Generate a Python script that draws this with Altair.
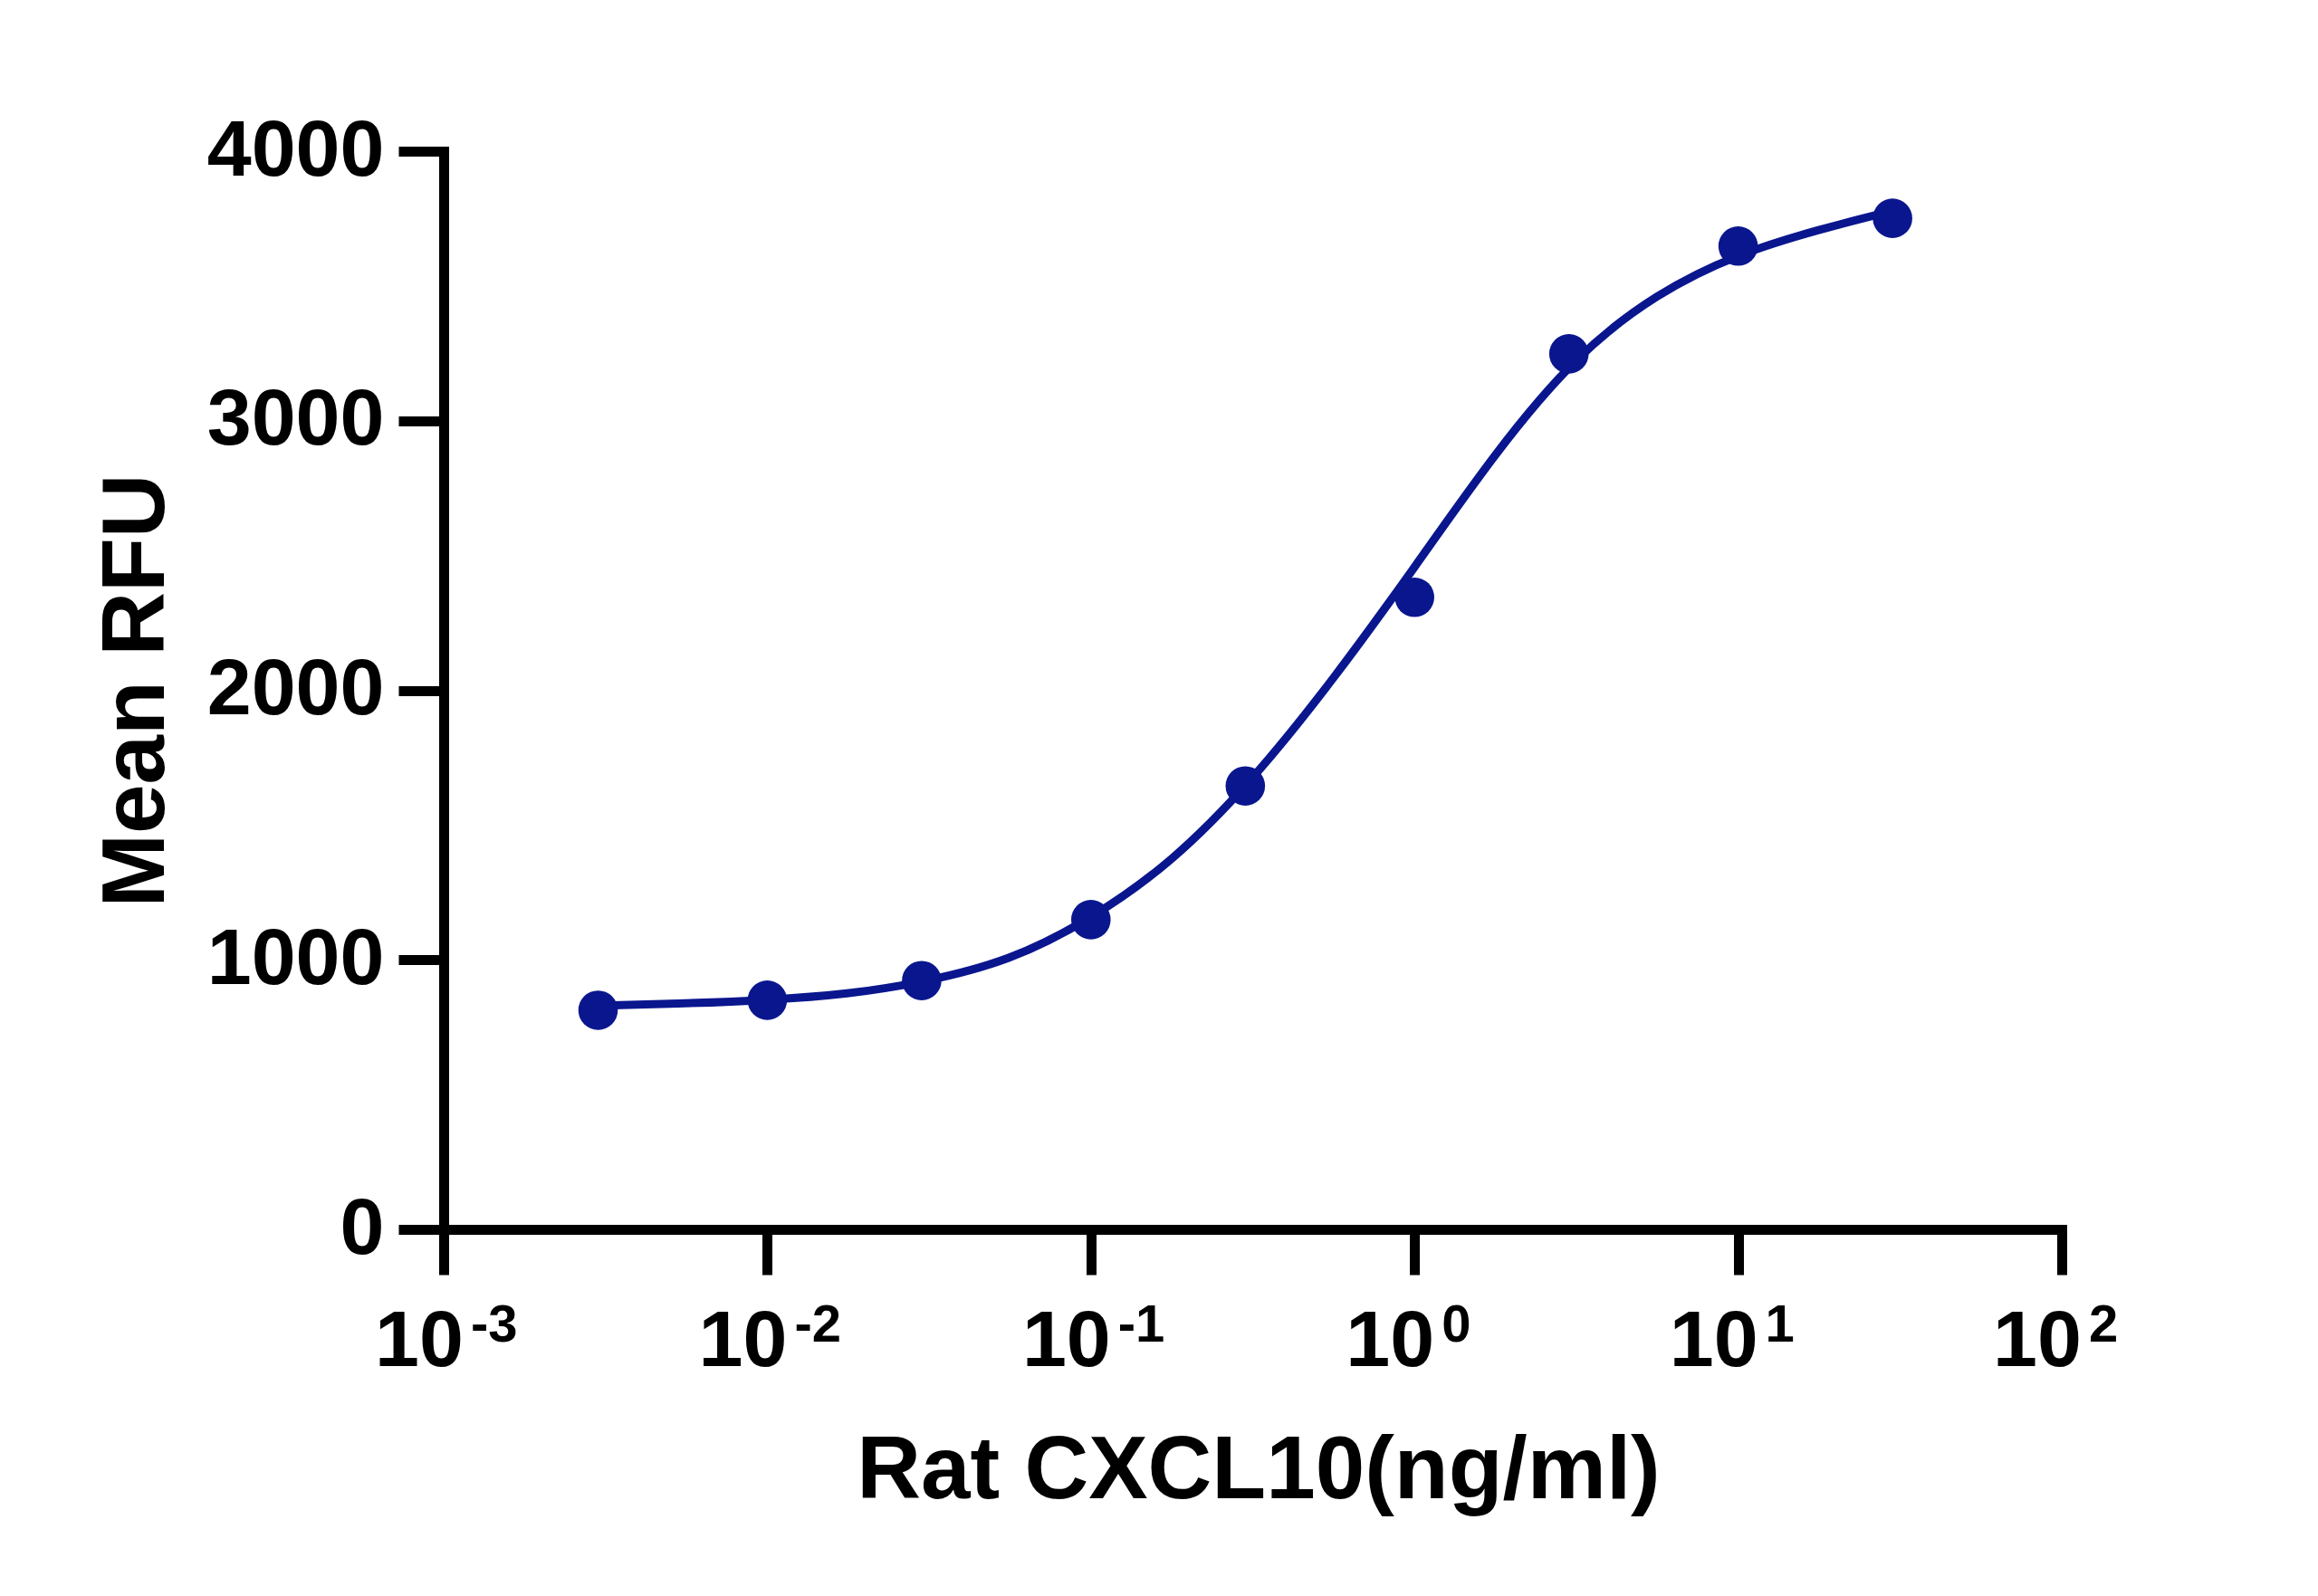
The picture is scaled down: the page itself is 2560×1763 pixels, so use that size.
import altair as alt
import pandas as pd

# measured points
conc = [0.003, 0.01, 0.03, 0.1, 0.3, 1, 3, 10, 30]
rfu = [813, 850, 923, 1149, 1645, 2345, 3248, 3648, 3751]

# fitted curve
curve_x = [0.003, 0.00562, 0.01, 0.0178, 0.03, 0.0562, 0.1, 0.178, 0.316,
           0.562, 1.0, 1.78, 3.16, 5.62, 10, 17.8, 30]
curve_y = [830, 838, 850, 872, 915, 995, 1150, 1360, 1665,
           2040, 2455, 2885, 3245, 3475, 3620, 3710, 3778]

# x tick labels (10^k)
tick_vals = [0.001, 0.01, 0.1, 1, 10, 100]
tick_exp = ["-3", "-2", "-1", "0", "1", "2"]
y_ticks = [0, 1000, 2000, 3000, 4000]

COLOR = "#0a168e"
FONT = "Liberation Sans"

pts = pd.DataFrame({"x": conc, "y": rfu})
crv = pd.DataFrame({"x": curve_x, "y": curve_y})
ticks = pd.DataFrame({
    "x": tick_vals,
    "base": ["10"] * len(tick_vals),
    "exp": tick_exp,
})

xscale = alt.Scale(type="log", domain=[0.001, 100], nice=False)
yscale = alt.Scale(domain=[0, 4000], nice=False, zero=False)

W, H = 1787, 1191

xaxis = alt.Axis(
    values=tick_vals, labels=False, grid=False,
    domainColor="black", domainWidth=11, domainCap="square",
    tickColor="black", tickWidth=11, tickSize=50,
    title="Rat CXCL10(ng/ml)", titleFont=FONT, titleFontSize=98,
    titleFontWeight="bold", titleColor="black",
    titleX=W / 2 + 6, titleY=296, titleBaseline="alphabetic", titleAlign="center",
)
yaxis = alt.Axis(
    values=y_ticks, format="d", grid=False,
    domainColor="black", domainWidth=11, domainCap="square",
    tickColor="black", tickWidth=11, tickSize=50,
    labelFont=FONT, labelFontSize=88, labelFontWeight="bold", labelColor="black",
    labelPadding=16, labelLimit=0,
    title="Mean RFU", titleFont=FONT, titleFontSize=98, titleFontWeight="bold",
    titleColor="black", titleX=-310, titleY=H / 2, titleAngle=270,
    titleBaseline="alphabetic", titleAlign="center",
)

line = alt.Chart(crv).mark_line(
    color=COLOR, strokeWidth=9, interpolate="basis"
).encode(
    x=alt.X("x:Q", scale=xscale, axis=xaxis),
    y=alt.Y("y:Q", scale=yscale, axis=yaxis),
)

points = alt.Chart(pts).mark_circle(
    color=COLOR, size=1900, opacity=1
).encode(
    x=alt.X("x:Q", scale=xscale),
    y=alt.Y("y:Q", scale=yscale),
)

base_lbl = alt.Chart(ticks).mark_text(
    font=FONT, fontSize=88, fontWeight="bold", color="black",
    align="right", baseline="alphabetic", dx=22, dy=151,
).encode(
    x=alt.X("x:Q", scale=xscale),
    y=alt.datum(0),
    text="base:N",
)

exp_lbl = alt.Chart(ticks).mark_text(
    font=FONT, fontSize=58, fontWeight="bold", color="black",
    align="left", baseline="alphabetic", dx=30, dy=124,
).encode(
    x=alt.X("x:Q", scale=xscale),
    y=alt.datum(0),
    text="exp:N",
)

chart = alt.layer(line, points, base_lbl, exp_lbl).properties(
    width=W, height=H,
    autosize="none",
    padding={"left": 482, "top": 159, "right": 270, "bottom": 390},
    background="white",
).configure_view(strokeWidth=0)

chart.save("out.html", embed_options={"renderer": "svg", "actions": False})
